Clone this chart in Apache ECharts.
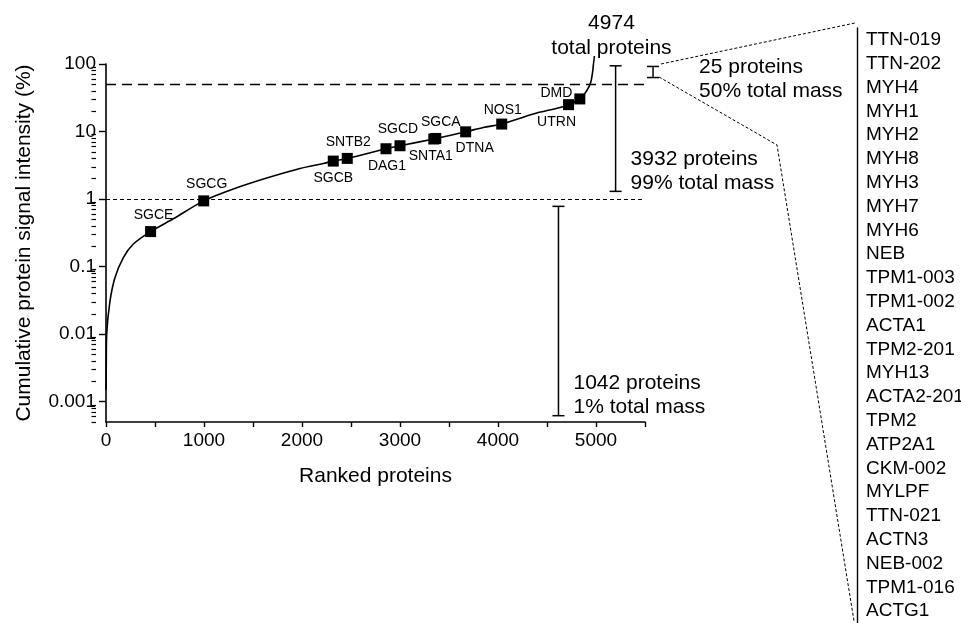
<!DOCTYPE html>
<html>
<head>
<meta charset="utf-8">
<title>Cumulative protein signal intensity</title>
<script src="https://cdn.jsdelivr.net/npm/echarts@6/dist/echarts.min.js"></script>
<style>
  html, body { margin: 0; padding: 0; background: #fff; }
  #chart { width: 961px; height: 623px; }
</style>
</head>
<body>
<div id="chart"></div>
<script>
// curve: rank vs cumulative signal (%)
var curveRank = [1, 3, 7, 41, 92, 177, 279, 455, 687, 997, 1299, 1640, 1980, 2218, 2319, 2462, 2857, 3000, 3345, 3365, 3670, 3850, 4038, 4360, 4633, 4720, 4835, 4905, 4946, 4965, 4974];
var curveValue = [0.0015, 0.004, 0.01, 0.031, 0.069, 0.136, 0.216, 0.33, 0.51, 0.94, 1.41, 2.05, 2.84, 3.37, 3.65, 4.0, 5.56, 6.16, 7.75, 7.9, 9.9, 11.5, 12.9, 18.2, 22.7, 25, 30.4, 40.2, 53.4, 75, 100];

// labelled proteins on the curve
var markNames = ["SGCE", "SGCG", "SGCB", "SNTB2", "DAG1", "SGCD", "SNTA1", "SGCA", "DTNA", "NOS1", "UTRN", "DMD"];
var markRank = [455, 997, 2319, 2462, 2857, 3000, 3345, 3365, 3670, 4038, 4720, 4835];
var markValue = [0.33, 0.94, 3.65, 4.0, 5.56, 6.16, 7.75, 7.9, 9.9, 12.9, 25, 30.4];

var totalProteins = 4974;
var refLevels = [50, 1];

// brackets: rank, low %, high %
var bracketRank = [5200, 5582, 4617];
var bracketLow = [1.3, 63, 0.00062];
var bracketHigh = [94, 92, 0.78];
var bracketText = ["3932 proteins\n99% total mass", "25 proteins\n50% total mass", "1042 proteins\n1% total mass"];

// top 25 proteins
var topProteins = ["TTN-019", "TTN-202", "MYH4", "MYH1", "MYH2", "MYH8", "MYH3", "MYH7", "MYH6", "NEB",
  "TPM1-003", "TPM1-002", "ACTA1", "TPM2-201", "MYH13", "ACTA2-201", "TPM2", "ATP2A1", "CKM-002",
  "MYLPF", "TTN-021", "ACTN3", "NEB-002", "TPM1-016", "ACTG1"];

var xTicks = [0, 1000, 2000, 3000, 4000, 5000];
var yTicks = [0.001, 0.01, 0.1, 1, 10, 100];

var FONT = '"Liberation Sans", Arial, Helvetica, sans-serif';

// minor tick positions of the log axis (2..9 x 10^n)
var yMinor = [];
for (var ex = -4; ex <= 1; ex++) {
  for (var k = 2; k <= 9; k++) {
    var mv = Number((k * Math.pow(10, ex)).toPrecision(2));
    if (mv >= 0.0005 && mv <= 100) yMinor.push(mv);
  }
}

// label placement per marker
var labelPlace = {
  SGCE: { position: "top", distance: 4, offset: [3, 0] },
  SGCG: { position: "top", distance: 4, offset: [3, 0] },
  SGCB: { position: "bottom", distance: 5, offset: [0, 0] },
  SNTB2: { position: "top", distance: 4, offset: [1, 0] },
  DAG1: { position: "bottom", distance: 5, offset: [1, 0] },
  SGCD: { position: "top", distance: 4, offset: [-2, 0] },
  SNTA1: { position: "bottom", distance: 5, offset: [-3, 0] },
  SGCA: { position: "top", distance: 4, offset: [5, 0] },
  DTNA: { position: "bottom", distance: 4, offset: [9, 0] },
  NOS1: { position: "top", distance: 1, offset: [1, 0] },
  UTRN: { position: "bottom", distance: 5, offset: [-12, 0] },
  DMD: { position: "left", distance: 2, offset: [0, -6] }
};

// text placement beside each bracket
var bracketPlace = [
  { dx: 15, anchor: "low", dy: 4, valign: "bottom" },
  { dx: 46, anchor: "high", dy: -11, valign: "top" },
  { dx: 15, anchor: "low", dy: 4, valign: "bottom" }
];

function fmtLog(v) {
  return String(Number(Number(v).toPrecision(3)));
}

function renderBracket(params, api) {
  var i = params.dataIndex;
  var hi = api.coord([api.value(0), api.value(2)]);
  var lo = api.coord([api.value(0), api.value(1)]);
  var cap = 6;
  var place = bracketPlace[i];
  var ty = (place.anchor === "low" ? lo[1] : hi[1]) + place.dy;
  var stroke = { stroke: "#000", lineWidth: 1.5 };
  return {
    type: "group",
    children: [
      { type: "line", shape: { x1: hi[0], y1: hi[1], x2: lo[0], y2: lo[1] }, style: stroke },
      { type: "line", shape: { x1: hi[0] - cap, y1: hi[1], x2: hi[0] + cap, y2: hi[1] }, style: stroke },
      { type: "line", shape: { x1: lo[0] - cap, y1: lo[1], x2: lo[0] + cap, y2: lo[1] }, style: stroke },
      {
        type: "text",
        x: hi[0] + place.dx,
        y: ty,
        style: {
          text: bracketText[i],
          fill: "#000",
          fontSize: 21,
          fontFamily: FONT,
          lineHeight: 24,
          align: "left",
          verticalAlign: place.valign
        }
      }
    ]
  };
}

function renderTotal(params, api) {
  var p = api.coord([api.value(0), api.value(1)]);
  return {
    type: "group",
    children: [
      {
        type: "bezierCurve",
        shape: { x1: p[0], y1: p[1], x2: p[0] + 1, y2: p[1] - 8, cpx1: p[0] + 0.6, cpy1: p[1] - 4 },
        style: { stroke: "#000", lineWidth: 1.5, fill: null }
      },
      {
        type: "text",
        x: p[0] + 18,
        y: p[1] - 3,
        style: {
          text: api.value(0) + "\ntotal proteins",
          fill: "#000",
          fontSize: 21,
          fontFamily: FONT,
          lineHeight: 25,
          align: "center",
          verticalAlign: "bottom"
        }
      }
    ]
  };
}

var chart = echarts.init(document.getElementById("chart"), null, { renderer: "canvas" });

var curveData = curveRank.map(function (r, i) { return [r, curveValue[i]]; });
var markData = markRank.map(function (r, i) {
  var pl = labelPlace[markNames[i]];
  return {
    name: markNames[i],
    value: [r, markValue[i]],
    label: { position: pl.position, distance: pl.distance, offset: pl.offset }
  };
});
var bracketData = bracketRank.map(function (r, i) { return [r, bracketLow[i], bracketHigh[i]]; });

var option = {
  backgroundColor: "#fff",
  animation: false,
  textStyle: { fontFamily: FONT, color: "#000" },
  grid: [
    { left: 106, top: 64, width: 539, height: 358 },
    { left: 857, top: 28, width: 104, height: 600 },
    // thin strip whose right edge sits on the y axis, only for the minor ticks
    { left: 96, top: 64, width: 10, height: 358 }
  ],
  xAxis: [
    {
      type: "value",
      gridIndex: 0,
      min: 0,
      max: 5500,
      interval: 500,
      name: "Ranked proteins",
      nameLocation: "middle",
      nameGap: 44,
      nameTextStyle: { fontSize: 21, color: "#000", fontFamily: FONT },
      axisLine: { lineStyle: { color: "#000", width: 1.6 } },
      axisTick: { length: 5, lineStyle: { color: "#000", width: 1.4 } },
      axisLabel: {
        fontSize: 19,
        color: "#000",
        fontFamily: FONT,
        margin: 9,
        formatter: function (v) { return xTicks.indexOf(v) >= 0 ? String(v) : ""; }
      },
      splitLine: { show: false }
    },
    { type: "value", gridIndex: 1, show: false, min: 0, max: 1 },
    { type: "value", gridIndex: 2, show: false, min: 0, max: 1 }
  ],
  yAxis: [
    {
      type: "log",
      gridIndex: 0,
      position: "left",
      logBase: 10,
      min: 0.0005,
      max: 100,
      name: "Cumulative protein signal intensity (%)",
      nameLocation: "middle",
      nameGap: 71,
      nameTextStyle: { fontSize: 21, color: "#000", fontFamily: FONT },
      axisLine: { show: true, lineStyle: { color: "#000", width: 1.6 } },
      axisTick: { show: true, length: 7, customValues: yTicks, lineStyle: { color: "#000", width: 1.4 } },
      axisLabel: {
        customValues: yTicks,
        fontSize: 19,
        color: "#000",
        fontFamily: FONT,
        margin: 10,
        formatter: fmtLog
      },
      splitLine: { show: false }
    },
    {
      type: "category",
      gridIndex: 1,
      inverse: true,
      data: topProteins,
      axisLine: { show: true, lineStyle: { color: "#000", width: 1.4 } },
      axisTick: { show: false },
      axisLabel: {
        inside: true,
        margin: 9,
        fontSize: 19,
        color: "#000",
        fontFamily: FONT,
        interval: 0
      },
      splitLine: { show: false }
    },
    {
      type: "log",
      gridIndex: 2,
      position: "right",
      logBase: 10,
      min: 0.0005,
      max: 100,
      axisLine: { show: false },
      axisTick: { show: true, inside: true, length: 4.5, customValues: yMinor, lineStyle: { color: "#000", width: 1.2 } },
      axisLabel: { show: false },
      splitLine: { show: false }
    }
  ],
  series: [
    {
      name: "cumulative",
      type: "line",
      xAxisIndex: 0,
      yAxisIndex: 0,
      data: curveData,
      smooth: 0.3,
      showSymbol: false,
      symbol: "none",
      lineStyle: { color: "#000", width: 1.6 },
      markLine: {
        silent: true,
        symbol: "none",
        label: { show: false },
        data: [
          { yAxis: refLevels[0], lineStyle: { color: "#000", width: 1.4, type: [10, 6] } },
          { yAxis: refLevels[1], lineStyle: { color: "#000", width: 1.1, type: [4, 3] } }
        ]
      },
      z: 3
    },
    {
      name: "proteins",
      type: "scatter",
      xAxisIndex: 0,
      yAxisIndex: 0,
      symbol: "rect",
      symbolSize: 11,
      itemStyle: { color: "#000", opacity: 1 },
      label: {
        show: true,
        formatter: "{b}",
        fontSize: 14,
        color: "#000",
        fontFamily: FONT
      },
      data: markData,
      z: 4
    },
    {
      name: "brackets",
      type: "custom",
      xAxisIndex: 0,
      yAxisIndex: 0,
      clip: false,
      renderItem: renderBracket,
      encode: { x: 0, y: [1, 2] },
      data: bracketData,
      z: 5
    },
    {
      name: "total",
      type: "custom",
      xAxisIndex: 0,
      yAxisIndex: 0,
      clip: false,
      renderItem: renderTotal,
      encode: { x: 0, y: 1 },
      data: [[totalProteins, 100]],
      z: 5
    }
  ],
  graphic: [
    {
      type: "polyline",
      shape: { points: [[661, 64], [855, 23]] },
      style: { stroke: "#000", lineWidth: 1, lineDash: [3, 2], fill: null },
      silent: true
    },
    {
      type: "polyline",
      shape: { points: [[659, 77], [777, 145], [854, 621]] },
      style: { stroke: "#000", lineWidth: 1, lineDash: [3, 2], fill: null },
      silent: true
    }
  ]
};

chart.setOption(option);
</script>
</body>
</html>
